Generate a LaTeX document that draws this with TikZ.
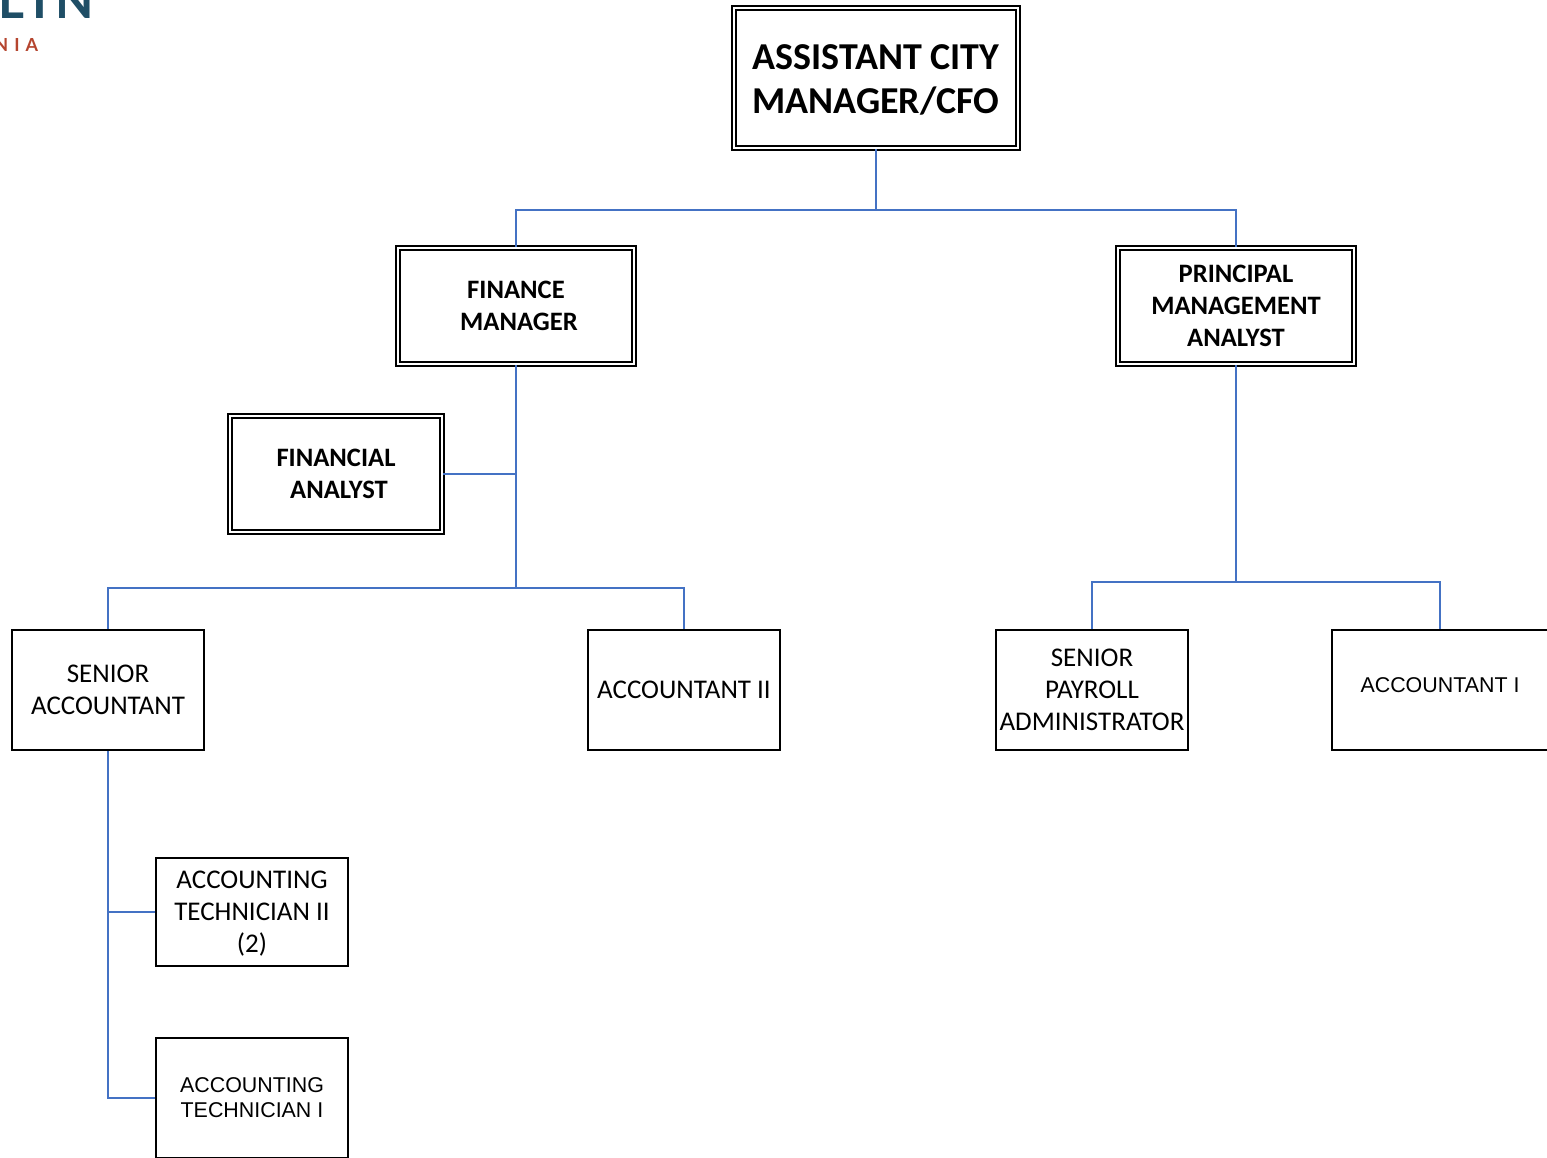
\documentclass[tikz,border=0pt]{standalone}
\usepackage{fontspec}
\setmainfont{Carlito}
\newfontfamily\arialfont{Liberation Sans}
\newfontfamily\logofont{Lato}
\definecolor{linkblue}{HTML}{4472C4}
\definecolor{logoteal}{HTML}{1F4E66}
\definecolor{logored}{HTML}{B5452F}
\begin{document}
\begin{tikzpicture}[x=0.5pt,y=-0.5pt,
        post/.style={draw=black, line width=1pt, fill=white, align=center, inner sep=0pt, font=\fontsize{13.5}{16}\selectfont},
        headpost/.style={post, double, double distance=1pt, line width=0.9pt, font=\fontsize{13.3}{16}\selectfont\bfseries},
        link/.style={draw=linkblue, line width=1pt}]
    \useasboundingbox (0,0) rectangle (1547,1157);
    % logo
    \node[text=logoteal, font=\logofont\fontsize{25}{25}\selectfont\bfseries, anchor=base west, inner sep=0pt] (logotop) at (-2,18) {L\,I\,N};
    \node[text=logored, font=\logofont\fontsize{9}{9}\selectfont\bfseries, anchor=base west, inner sep=0pt] (logobot) at (-6,51) {N\,\,I\,\,A};
    % top levels
    \node[headpost, minimum width=142.1pt, minimum height=70.1pt, font=\fontsize{19}{22}\selectfont\bfseries] (cfo) at (876,78) {\rule{0pt}{14pt}ASSISTANT CITY\\MANAGER/CFO};
    \node[headpost, minimum width=118.1pt, minimum height=58.1pt] (fm) at (516,306) {FINANCE\\\hspace*{3pt}MANAGER};
    \node[headpost, minimum width=118.1pt, minimum height=58.1pt] (pma) at (1236,306) {PRINCIPAL\\MANAGEMENT\\ANALYST};
    \node[headpost, minimum width=106.1pt, minimum height=58.1pt] (fa) at (336,474) {FINANCIAL\\\hspace*{3pt}ANALYST};
    % staff
    \node[post, minimum width=96pt, minimum height=60pt] (sa) at (108,690) {SENIOR\\ACCOUNTANT};
    \node[post, minimum width=96pt, minimum height=60pt] (acc2) at (684,690) {ACCOUNTANT II};
    \node[post, minimum width=96pt, minimum height=60pt] (spa) at (1092,690) {SENIOR\\PAYROLL\\ADMINISTRATOR};
    \node[post, minimum width=108pt, minimum height=60pt, font=\arialfont\fontsize{10.7}{12}\selectfont] (acc1) at (1440,690) {\raisebox{4.5pt}{ACCOUNTANT I}};
    \node[post, minimum width=96pt, minimum height=54pt] (tech2) at (252,912) {\rule{0pt}{10pt}ACCOUNTING\\TECHNICIAN II\\(2)};
    \node[post, minimum width=96pt, minimum height=60pt, font=\arialfont\fontsize{10.7}{12.5}\selectfont] (tech1) at (252,1098) {ACCOUNTING\\TECHNICIAN I};
    % connectors
    \coordinate (cfojoin) at (876,210);
    \coordinate (fmjoin) at (516,588);
    \coordinate (pmajoin) at (1236,582);
    \draw[link] (cfo.south) -- (cfojoin);
    \draw[link] (fm.north) |- (cfojoin) -| (pma.north);
    \draw[link] (fm.south) -- (fmjoin);
    \draw[link] (fa.east) -- (fa.east -| fmjoin);
    \draw[link] (sa.north) |- (fmjoin) -| (acc2.north);
    \draw[link] (pma.south) -- (pmajoin);
    \draw[link] (spa.north) |- (pmajoin) -| (acc1.north);
    \draw[link] (sa.south) |- (tech2.west);
    \draw[link] (sa.south) |- (tech1.west);
\end{tikzpicture}
\end{document}
